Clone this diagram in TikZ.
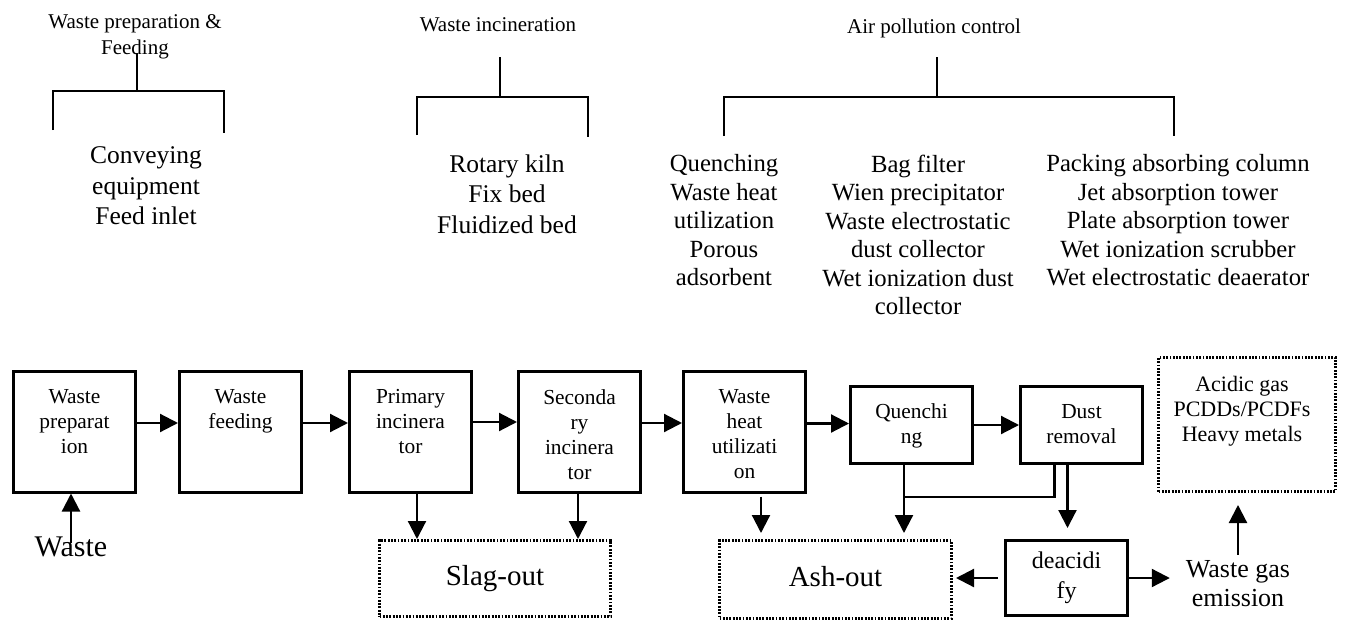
\documentclass[tikz,border=0pt]{standalone}
\usepackage{fontspec}
\setmainfont{Liberation Serif}
\usetikzlibrary{arrows.meta,positioning}

\begin{document}
\begin{tikzpicture}[x=1pt,y=-1pt,
  stage/.style={draw,line width=3pt,minimum width=122pt,minimum height=121pt,inner sep=0pt},
  short/.style={minimum height=77pt},
  outbox/.style={draw,line width=3pt,dash pattern=on 1.8pt off 1.5pt,inner sep=0pt},
  boxtxt/.style={font=\fontsize{21.4}{25}\selectfont,align=center,inner sep=0pt},
  grouphead/.style={font=\fontsize{21}{26}\selectfont,align=center,inner sep=0pt,anchor=north},
  itemlist/.style={font=\fontsize{24.7}{28.5}\selectfont,align=center,inner sep=0pt,anchor=north},
  biglist/.style={itemlist,font=\fontsize{25.5}{30.5}\selectfont},
  flow/.style={line width=2.2pt,-{Triangle[length=18pt,width=18pt]}},
  brk/.style={line width=2.6pt,line join=miter},
]
\useasboundingbox (0,0) rectangle (1345,624);

% equipment groups
\node[grouphead] (hdfeed) at (135,14) {Waste preparation \&\\Feeding};
\node[grouphead] (hdburn) at (498,17) {Waste incineration};
\node[grouphead] (hdair) at (934,19) {Air pollution control};
\draw[brk] (137,53) -- (137,91) (53,130) |- (224,91) -- (224,133);
\draw[brk] (500,57) -- (500,97) (417,135) |- (588,97) -- (588,137);
\draw[brk] (937,57) -- (937,97) (724,136) |- (1174,97) -- (1174,136);
\node[biglist] (lsfeed) at (146,146.5) {Conveying\\equipment\\Feed inlet};
\node[biglist] (lsburn) at (507,154.5) {Rotary kiln\\Fix bed\\Fluidized bed};
\node[itemlist] (lsquench) at (724,154.5) {Quenching\\Waste heat\\utilization\\Porous\\adsorbent};
\node[itemlist] (lsdust) at (918,154.5) {Bag filter\\Wien precipitator\\Waste electrostatic\\dust collector\\Wet ionization dust\\collector};
\node[itemlist] (lsacid) at (1178,154.5) {Packing absorbing column\\Jet absorption tower\\Plate absorption tower\\Wet ionization scrubber\\Wet electrostatic deaerator};

% process line
\node[stage] (prep) at (74.5,431.5) {};
\node[stage,right=41pt of prep] (feed) {};
\node[stage,right=45pt of feed] (prim) {};
\node[stage,right=44pt of prim] (sec) {};
\node[stage,right=40pt of sec] (heat) {};
\node[stage,short,right=42pt of heat,yshift=6.5pt] (quench) {};
\node[stage,short,right=45pt of quench] (dust) {};
\node[boxtxt,below=20pt of prep.north] (preptxt) {Waste\\preparat\\ion};
\node[boxtxt,below=20pt of feed.north] (feedtxt) {Waste\\feeding};
\node[boxtxt,below=20pt of prim.north] (primtxt) {Primary\\incinera\\tor};
\node[boxtxt,below=20pt of sec.north] (sectxt) {Seconda\\ry\\incinera\\tor};
\node[boxtxt,below=20pt of heat.north] (heattxt) {Waste\\heat\\utilizati\\on};
\node[boxtxt,below=18pt of quench.north] (quenchtxt) {Quenchi\\ng};
\node[boxtxt,below=19pt of dust.north] (dusttxt) {Dust\\removal};

\node[outbox,minimum width=177pt,minimum height=134pt] (gases) at (1247,424.5) {};
\node[boxtxt,font=\fontsize{22}{25}\selectfont,below=20pt of gases.north,xshift=-5pt] (gasestxt) {Acidic gas\\PCDDs/PCDFs\\Heavy metals};

\node[outbox,minimum width=231pt,minimum height=76pt,font=\fontsize{29}{34}\selectfont] (slag) at (495,578.5) {\raisebox{5pt}{Slag-out}};
\node[outbox,minimum width=232pt,minimum height=78pt,font=\fontsize{29}{34}\selectfont] (ash) at (835.5,579.5) {\raisebox{6pt}{Ash-out}};
\node[stage,minimum height=75pt,font=\fontsize{24}{30}\selectfont,align=center] (deacid) at (1066.5,578) {deacidi\\fy};
\node[inner sep=0pt,font=\fontsize{30}{34}\selectfont] (wastein) at (71,547) {Waste};
\node[inner sep=0pt,align=center,font=\fontsize{26}{29}\selectfont] (gasout) at (1238,584) {Waste gas\\emission};

% flows
\draw[flow] ([yshift=4pt]wastein.center) -- (wastein.center |- prep.south);
\draw[flow] ([yshift=8.5pt]prep.east) -- ([yshift=8.5pt]feed.west);
\draw[flow] ([yshift=8.5pt]feed.east) -- ([yshift=8.5pt]prim.west);
\draw[flow] ([yshift=9.5pt]prim.east) -- ([yshift=9.5pt]sec.west);
\draw[flow] ([yshift=8.5pt]sec.east) -- ([yshift=8.5pt]heat.west);
\draw[flow] ([yshift=8pt]heat.east) -- ([yshift=8pt]heat.east -| quench.west);
\draw[flow] (quench) -- (dust);
\draw[flow] ([xshift=6.5pt]prim.south) -- ([xshift=6.5pt]prim.south |- slag.north);
\draw[flow] ([xshift=-1.5pt]sec.south) -- ([xshift=-1.5pt]sec.south |- slag.north);
\draw[flow,shorten <=3pt,shorten >=6pt] ([xshift=16.5pt]heat.south) -- ([xshift=16.5pt]heat.south |- ash.north);
\draw[flow,shorten >=6pt] ([xshift=-7.5pt]quench.south) -- ([xshift=-7.5pt]quench.south |- ash.north);
\draw[line width=2.2pt] ([xshift=-27pt]dust.south) |- ([xshift=-7.5pt,yshift=-32pt]quench.south);
\draw[flow,shorten >=11pt] ([xshift=-14pt]dust.south) -- ([xshift=-14pt]dust.south |- deacid.north);
\draw[flow,shorten <=6pt,shorten >=3pt] (deacid.west) -- (deacid.west -| ash.east);
\draw[flow,shorten >=16pt] (deacid.east) -- (deacid.east -| gasout.west);
\draw[flow,shorten >=12pt] ([yshift=6pt]gasout.north) -- (gasout.north |- gases.south);
\end{tikzpicture}
\end{document}
